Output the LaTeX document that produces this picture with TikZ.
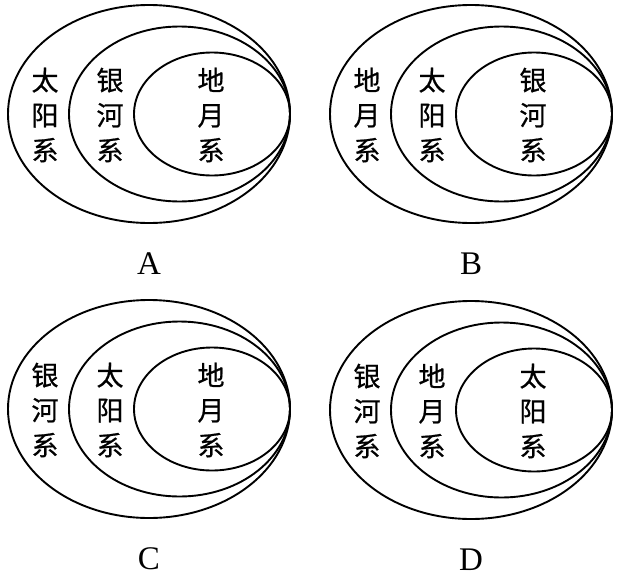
\documentclass[tikz,border=0pt]{standalone}
\usepackage{fontspec}
\setmainfont{Liberation Serif}
\newfontfamily\cjk[FakeBold=0.7]{Noto Sans CJK SC}
\usetikzlibrary{shapes.geometric}
\tikzset{
  ring/.style={draw, ellipse, line width=1.9pt, inner sep=0pt, minimum width=#1},
  vtext/.style={align=center, inner sep=0pt, font=\cjk\fontsize{27}{35}\selectfont},
  lab/.style={inner sep=0pt, font=\fontsize{33}{33}\selectfont}
}
\newcommand\venndiag[7]{%
  \node[ring=282pt, minimum height=218pt] (#3o) at (#1-141,#2) {};
  \node[ring=221pt, minimum height=175pt] (#3m) at (#1-110.5,#2) {};
  \node[ring=156pt, minimum height=123pt] (#3i) at (#1-78,#2) {};
  \node[vtext] (#3t1) at (#1-245,#2+1) {#4};
  \node[vtext] (#3t2) at (#1-180,#2+1) {#5};
  \node[vtext] (#3t3) at (#1-79,#2+1) {#6};
  \node[lab] (#3l) at (#1-141,#2+150) {#7};
}
\begin{document}
\begin{tikzpicture}[x=1pt,y=-1pt]
\useasboundingbox (0,0) rectangle (621,581);
\venndiag{290}{114}{a}{太\\阳\\系}{银\\河\\系}{地\\月\\系}{A}
\venndiag{612}{114}{b}{地\\月\\系}{太\\阳\\系}{银\\河\\系}{B}
\venndiag{290}{409}{c}{银\\河\\系}{太\\阳\\系}{地\\月\\系}{C}
\venndiag{612}{410}{d}{银\\河\\系}{地\\月\\系}{太\\阳\\系}{D}
\end{tikzpicture}
\end{document}
